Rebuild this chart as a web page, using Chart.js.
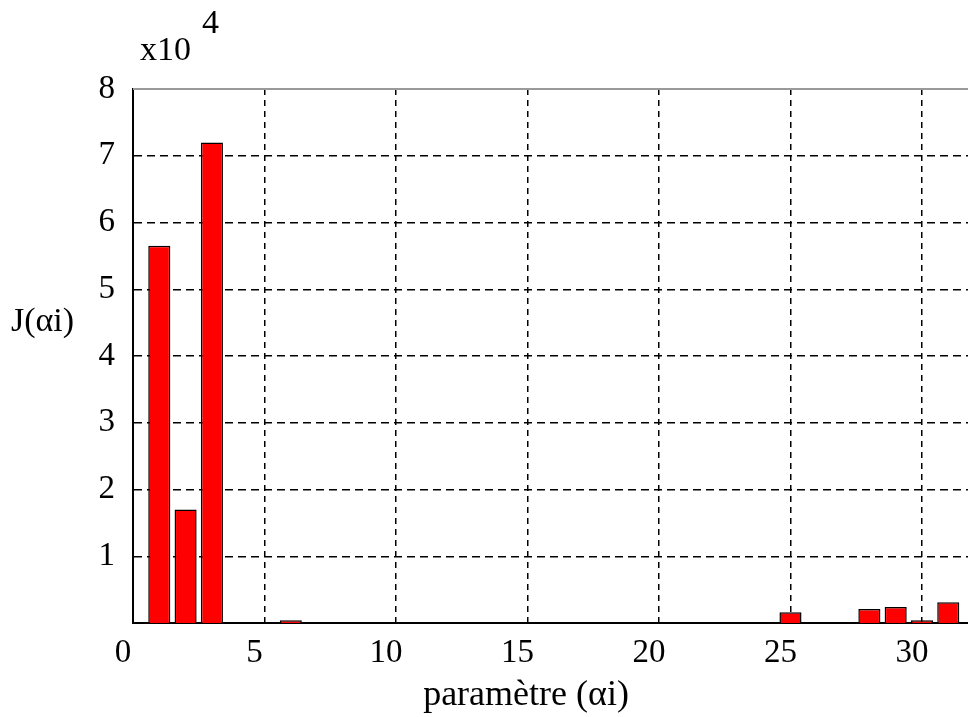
<html lang="fr">
<head>
  <meta charset="utf-8">
  <script src="https://cdn.jsdelivr.net/npm/chart.js@4.4.0/dist/chart.umd.min.js"></script>
  <style>
    body { margin: 0; background: #fff; }
    #wrap { width: 968px; height: 717px; }
  </style>
</head>
<body>
<div id="wrap"><canvas id="myChart"></canvas></div>
<script>
  // parameter index and J(alpha_i) in units of 10^4
  const params = [1, 2, 3, 6, 25, 28, 29, 30, 31];
  const jValues = [5.65, 1.70, 7.20, 0.04, 0.16, 0.21, 0.24, 0.04, 0.31];
  const xTicks = [0, 5, 10, 15, 20, 25, 30];
  const yTicks = [1, 2, 3, 4, 5, 6, 7, 8];
  const xLabel = 'paramètre (αi)';
  const yLabel = 'J(αi)';
  const scaleText = 'x10';
  const scaleExp = '4';

  const serif = '"Liberation Serif", "Times New Roman", serif';

  const textPlugin = {
    id: 'textPlugin',
    afterDraw(chart) {
      const ctx = chart.ctx;
      const area = chart.chartArea;
      ctx.save();
      // top frame line
      ctx.strokeStyle = '#9a9a9a';
      ctx.lineWidth = 2;
      ctx.beginPath();
      ctx.moveTo(area.left, area.top);
      ctx.lineTo(area.right, area.top);
      ctx.stroke();

      ctx.fillStyle = '#000';
      ctx.textBaseline = 'alphabetic';
      ctx.font = '34px ' + serif;
      ctx.textAlign = 'left';
      ctx.fillText(scaleText, 140, 60);
      ctx.fillText(scaleExp, 202, 33);
      ctx.fillText(yLabel, 11, 331);
      ctx.font = '36px ' + serif;
      ctx.textAlign = 'center';
      ctx.fillText(xLabel, 526, 705);
      ctx.restore();
    }
  };

  const ch = document.getElementById('myChart').getContext('2d');
  var chartVar = new Chart(ch, {
    type: 'bar',
    data: {
      datasets: [{
        data: params.map((p, i) => ({x: p, y: jValues[i]})),
        backgroundColor: '#ff0000',
        borderColor: '#000',
        borderWidth: 1.5,
        barPercentage: 0.84,
        categoryPercentage: 1
      }]
    },
    options: {
      responsive: true,
      maintainAspectRatio: false,
      animation: false,
      layout: { padding: { top: 89, left: 0, right: 0, bottom: 0 } },
      plugins: { legend: { display: false }, tooltip: { enabled: false } },
      scales: {
        x: {
          type: 'linear',
          offset: false,
          min: 0,
          max: 31.75,
          afterBuildTicks: (scale) => { scale.ticks = xTicks.map(v => ({value: v})); },
          afterFit: (scale) => { scale.height = 94; },
          ticks: {
            color: '#000',
            font: { family: serif, size: 33 },
            padding: 11,
            labelOffset: -10,
            maxRotation: 0
          },
          grid: {
            offset: false,
            color: (c) => c.tick && c.tick.value === 0 ? 'rgba(0,0,0,0)' : '#000',
            lineWidth: 1.5,
            drawTicks: false
          },
          border: { display: true, color: '#000', width: 2, dash: [6, 5] }
        },
        y: {
          min: 0,
          max: 8,
          afterBuildTicks: (scale) => { scale.ticks = yTicks.map(v => ({value: v})); },
          afterFit: (scale) => { scale.width = 133; },
          ticks: {
            color: '#000',
            font: { family: serif, size: 33 },
            padding: 18
          },
          grid: {
            color: (c) => c.tick && c.tick.value === 8 ? 'rgba(0,0,0,0)' : '#000',
            lineWidth: 1.5,
            drawTicks: false
          },
          border: { display: true, color: '#000', width: 2, dash: [8, 5] }
        }
      }
    },
    plugins: [textPlugin]
  });
</script>
</body>
</html>
